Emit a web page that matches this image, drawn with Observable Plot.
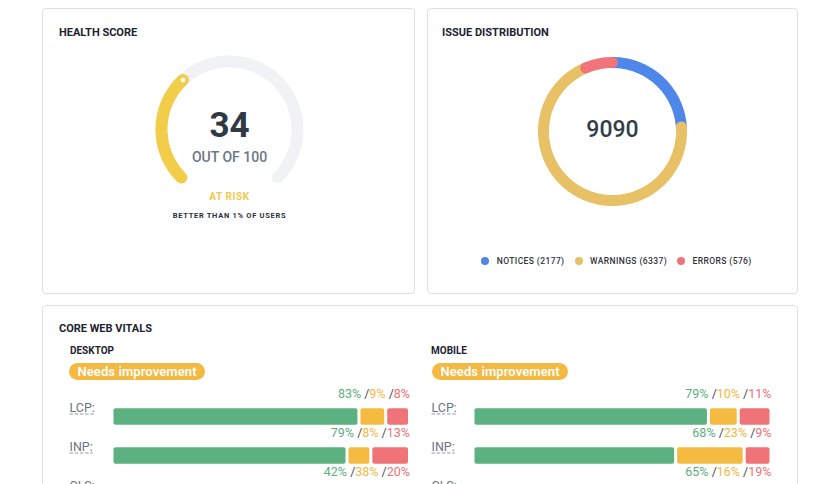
<!DOCTYPE html>
<html><head><meta charset="utf-8">
<script src="https://cdn.jsdelivr.net/npm/d3@7"></script>
<script src="https://cdn.jsdelivr.net/npm/@observablehq/plot@0.6"></script>
<style>
html,body{margin:0;padding:0;background:#fff;}
body{width:836px;height:484px;overflow:hidden;position:relative;font-family:Roboto,"Noto Sans",sans-serif;}
.card{position:absolute;border:1px solid #dcdfe4;border-radius:4px;background:#fff;box-sizing:border-box;}
.abs{position:absolute;line-height:1;white-space:nowrap;}
.title{font-size:11px;font-weight:700;color:#1d2330;}
.device{font-size:10px;font-weight:700;color:#1d2330;}
.pill{position:absolute;height:17px;width:136px;border-radius:9px;background:#f4b942;color:#fff;font-size:13px;font-weight:600;line-height:17px;text-align:center;letter-spacing:0.1px;}
.legend{position:absolute;display:flex;justify-content:center;align-items:center;height:10px;font-size:8.5px;font-weight:500;letter-spacing:0.4px;color:#2f343d;}
.legend .item{display:flex;align-items:center;margin:0 5px;}
.legend .dot{width:8px;height:8px;border-radius:50%;margin-right:7.5px;}
</style></head>
<body>
<div class="card" style="left:42px;top:8px;width:373px;height:286px"></div>
<div class="card" style="left:427px;top:8px;width:371px;height:286px"></div>
<div class="card" style="left:42px;top:305px;width:756px;height:260px"></div>

<div class="abs title" style="left:59px;top:26.5px">HEALTH SCORE</div>
<div class="abs title" style="left:442px;top:26.5px">ISSUE DISTRIBUTION</div>
<div class="abs title" style="left:59px;top:322.5px">CORE WEB VITALS</div>
<div class="abs device" style="left:70px;top:346px">DESKTOP</div>
<div class="abs device" style="left:431px;top:346px">MOBILE</div>
<div class="pill" style="left:69px;top:363px" id="pillDesktop"></div>
<div class="pill" style="left:432px;top:363px" id="pillMobile"></div>

<div class="abs" id="gauge" style="left:109px;top:9px"></div>
<div class="abs" id="donut" style="left:492px;top:11px"></div>
<div class="legend" id="legend" style="left:431px;top:256px;width:371px"></div>
<div class="abs" id="desktop" style="left:60px;top:375px"></div>
<div class="abs" id="mobile" style="left:420px;top:375px"></div>

<script>
// ---------- data ----------
const gaugeScore = 34;
const gaugeMax = 100;
const gaugeStatus = "AT RISK";
const gaugePercentile = 1;

const issueNames = ["NOTICES", "WARNINGS", "ERRORS"];
const issueCounts = [2177, 6337, 576];

const metrics = ["LCP", "INP", "CLS"];
const ratingNames = ["Good", "Needs improvement", "Poor"];
const desktopGood = [83, 79, 42];
const desktopNeeds = [9, 8, 38];
const desktopPoor = [8, 13, 20];
const mobileGood = [79, 68, 65];
const mobileNeeds = [10, 23, 16];
const mobilePoor = [11, 9, 19];
const desktopStatus = "Needs improvement";
const mobileStatus = "Needs improvement";

// ---------- styles ----------
const issueColors = ["#4e86ea", "#e8c166", "#f07479"];
const barColors = ["#5bb180", "#f5bb40", "#f07378"];
const labelColors = ["#5dae7f", "#f5b63f", "#ef6f75"];
const slashColor = "#4a505c";
const FONT = "Roboto, 'Noto Sans', sans-serif";

// angle measured clockwise from top, degrees
function arc(v0, v1, vmax, startDeg, spanDeg, r, extra) {
  const n = Math.max(2, Math.ceil(Math.abs(v1 - v0) / vmax * 200));
  return d3.range(n + 1).map(i => {
    const v = v0 + (v1 - v0) * i / n;
    const a = (startDeg + spanDeg * v / vmax) * Math.PI / 180;
    return {x: r * Math.sin(a), y: r * Math.cos(a), ...extra};
  });
}

// ---------- gauge ----------
const gStart = -135, gSpan = 270, gR = 68;
const track = arc(0, gaugeMax, gaugeMax, gStart, gSpan, gR);
const valueArc = arc(0, gaugeScore, gaugeMax, gStart, gSpan, gR);
const gauge = Plot.plot({
  width: 240, height: 240, margin: 0,
  x: {domain: [-120, 120], axis: null},
  y: {domain: [-120, 120], axis: null},
  style: {background: "transparent", fontFamily: FONT, overflow: "visible"},
  marks: [
    Plot.line(track, {x: "x", y: "y", stroke: "#f1f2f5", strokeWidth: 12}),
    Plot.line(valueArc, {x: "x", y: "y", stroke: "#f2cd4a", strokeWidth: 12, strokeLinecap: "round"}),
    Plot.dot([valueArc[valueArc.length - 1]], {x: "x", y: "y", r: 2.3, fill: "white"}),
    Plot.text([gaugeScore], {frameAnchor: "middle", text: d => String(d), fontSize: 35, fontWeight: 700, fill: "#2f3a46", dy: -3.5}),
    Plot.text([gaugeMax], {frameAnchor: "middle", text: d => `OUT OF ${d}`, fontSize: 14, fontWeight: 500, fill: "#6b7785", dy: 28}),
    Plot.text([gaugeStatus], {frameAnchor: "middle", text: d => d, fontSize: 10, fontWeight: 700, fill: "#f2c94c", dy: 67}),
    Plot.text([gaugePercentile], {frameAnchor: "middle", text: d => `BETTER THAN ${d}% OF USERS`, fontSize: 7.5, fontWeight: 700, fill: "#2b303a", dy: 86.5})
  ]
});
d3.select(gauge).selectAll("text").filter(function(){return this.textContent === gaugeStatus;}).attr("letter-spacing", "0.6");
d3.select(gauge).selectAll("text").filter(function(){return this.textContent.startsWith("BETTER");}).attr("letter-spacing", "0.7");
document.getElementById("gauge").append(gauge);

// ---------- donut ----------
const total = d3.sum(issueCounts);
const cum = d3.cumsum(issueCounts);
const donutPts = issueNames.flatMap((name, i) =>
  arc(cum[i] - issueCounts[i], cum[i], total, 0, 360, 69, {name}));
const donut = Plot.plot({
  width: 240, height: 240, margin: 0,
  x: {domain: [-120, 120], axis: null},
  y: {domain: [-120, 120], axis: null},
  color: {domain: issueNames, range: issueColors},
  style: {background: "transparent", fontFamily: FONT, overflow: "visible"},
  marks: [
    Plot.line(donutPts, {x: "x", y: "y", z: "name", stroke: "name", strokeWidth: 11}),
    Plot.text([total], {frameAnchor: "middle", text: d => String(d), fontSize: 23, fontWeight: 500, fill: "#333d48", dy: -1.5})
  ]
});
document.getElementById("donut").append(donut);

const legend = d3.select("#legend");
issueNames.forEach((n, i) => {
  const it = legend.append("div").attr("class", "item");
  it.append("div").attr("class", "dot").style("background", issueColors[i]);
  it.append("span").text(`${n} (${issueCounts[i]})`);
});

// ---------- core web vitals ----------
function vitals(good, needs, poor, width, ml, mr, labelDx) {
  const vals = [good, needs, poor];
  const rows = metrics.flatMap((m, i) => ratingNames.map((r, k) => ({metric: m, rating: r, value: vals[k][i]})));
  const summary = metrics.map((m, i) => ({metric: m, total: good[i] + needs[i] + poor[i],
    label: `${good[i]}% /${needs[i]}% /${poor[i]}%`}));
  const svg = Plot.plot({
    width, height: 140, marginLeft: ml, marginRight: mr, marginTop: 21, marginBottom: 0.5,
    x: {domain: [0, 100], axis: null},
    y: {domain: metrics, axis: null, padding: 0},
    color: {domain: ratingNames, range: barColors},
    style: {background: "transparent", fontFamily: FONT, overflow: "visible"},
    marks: [
      Plot.barX(rows, Plot.stackX({x: "value", y: "metric", fill: "rating", insetTop: 11.2, insetBottom: 11.2, insetLeft: 1.5, insetRight: 1.5, rx: 2})),
      Plot.text(summary, {x: "total", y: "metric", text: "label", textAnchor: "end", dy: -23.5, fontSize: 12.5}),
      Plot.text(metrics, {y: d => d, frameAnchor: "left", text: d => d + ":", textAnchor: "start", dx: labelDx, dy: -9.5, fontSize: 12.5, fill: "#6b7380"})
    ]
  });
  d3.select(svg).selectAll("text").filter(function(){return this.textContent.includes("% /");}).each(function(){
    const parts = this.textContent.split(" /");
    const s = d3.select(this); s.text(null);
    parts.forEach((p, i) => {
      if (i) s.append("tspan").attr("fill", slashColor).text(" /");
      s.append("tspan").attr("fill", labelColors[i]).text(p);
    });
  });
  return svg;
}
// dashed underline below each metric label, sized from the rendered text
function underline(svg) {
  d3.select(svg).selectAll("text").filter(function(){return /^[A-Z]+:$/.test(this.textContent);}).each(function(){
    const b = this.getBBox();
    const t = this.getAttribute("transform");
    const ln = d3.select(this.parentNode).append("line")
      .attr("x1", b.x).attr("x2", b.x + b.width)
      .attr("y1", b.y + b.height - 0.5).attr("y2", b.y + b.height - 0.5)
      .attr("stroke", "#8f99a6").attr("stroke-width", 1)
      .attr("stroke-dasharray", "3.5,1.7");
    if (t) ln.attr("transform", t);
  });
}
const dsvg = vitals(desktopGood, desktopNeeds, desktopPoor, 360, 52, 10.5, -43);
const msvg = vitals(mobileGood, mobileNeeds, mobilePoor, 360, 53, 9, -42);
document.getElementById("desktop").append(dsvg);
document.getElementById("mobile").append(msvg);
underline(dsvg); underline(msvg);
document.getElementById("pillDesktop").textContent = desktopStatus;
document.getElementById("pillMobile").textContent = mobileStatus;
</script>
</body></html>
